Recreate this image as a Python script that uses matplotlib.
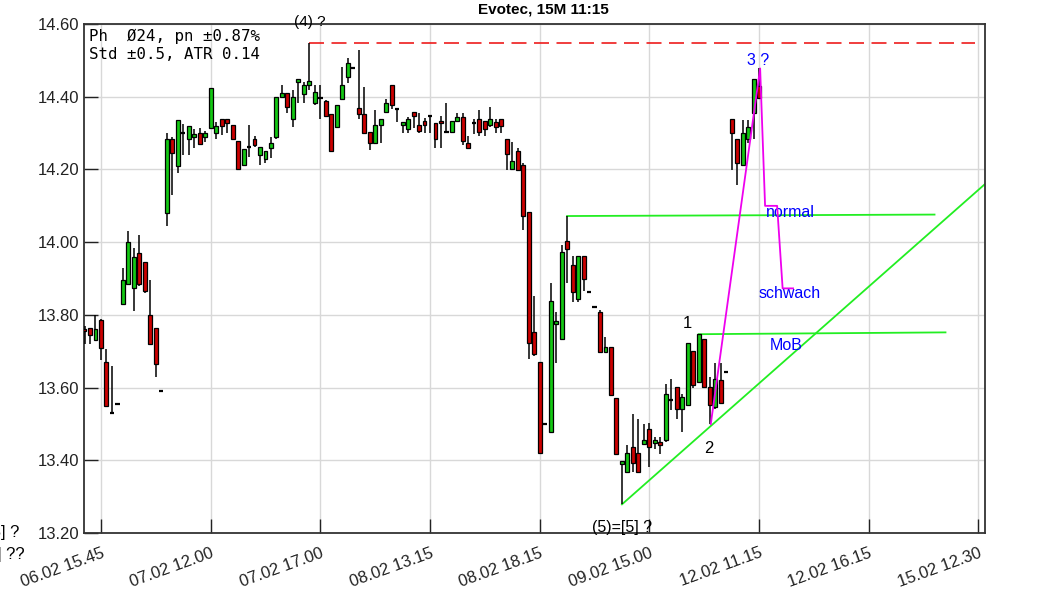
import matplotlib
matplotlib.use("Agg")
import matplotlib.pyplot as plt

plt.rcParams["font.family"] = ["Liberation Sans", "DejaVu Sans"]

# 15-minute candles, first bar index -3, one bar per slot
first_bar = -3
opens = [13.76, 13.765, 13.73, 13.785, 13.67, 13.53, 13.555, 13.83, 13.885, 13.875,
         13.97, 13.945, 13.80, 13.765, 13.59, 14.08, 14.285, 14.21, 14.30, 14.285,
         14.29, 14.30, 14.29, 14.315, 14.30, 14.34, 14.34, 14.322, 14.277, 14.212,
         14.26, 14.283, 14.241, 14.229, 14.26, 14.29, 14.40, 14.411, 14.34, 14.44,
         14.407, 14.432, 14.382, 14.396, 14.388, 14.352, 14.316, 14.393, 14.455, 14.478,
         14.37, 14.352, 14.304, 14.272, 14.322, 14.357, 14.432, 14.365, 14.322, 14.31,
         14.357, 14.322, 14.333, 14.347, 14.328, 14.334, 14.304, 14.302, 14.334, 14.345,
         14.272, 14.324, 14.34, 14.333, 14.322, 14.33, 14.338, 14.285, 14.20, 14.25,
         14.212, 14.084, 13.752, 13.671, 13.50, 13.478, 13.776, 13.735, 14.004, 13.937,
         13.845, 13.962, 13.864, 13.822, 13.807, 13.697, 13.711, 13.572, 13.391, 13.368,
         13.437, 13.419, 13.445, 13.487, 13.448, 13.451, 13.456, 13.566, 13.601, 13.54,
         13.552, 13.70, 13.616, 13.735, 13.602, 13.547, 13.621, 13.644, 14.34, 14.285,
         14.212, 14.283, 14.356, 14.429]
highs = [13.77, 13.765, 13.80, 13.79, 13.705, 13.66, 13.555, 13.93, 14.03, 13.985,
         14.02, 13.945, 13.895, 13.765, 13.59, 14.30, 14.29, 14.335, 14.325, 14.32,
         14.31, 14.315, 14.305, 14.425, 14.33, 14.34, 14.34, 14.322, 14.277, 14.255,
         14.322, 14.292, 14.262, 14.251, 14.29, 14.40, 14.432, 14.411, 14.418, 14.448,
         14.441, 14.548, 14.432, 14.432, 14.39, 14.352, 14.377, 14.483, 14.506, 14.478,
         14.528, 14.428, 14.304, 14.363, 14.34, 14.393, 14.432, 14.365, 14.331, 14.345,
         14.357, 14.354, 14.342, 14.347, 14.328, 14.347, 14.382, 14.333, 14.356, 14.356,
         14.292, 14.338, 14.363, 14.333, 14.371, 14.338, 14.338, 14.285, 14.276, 14.258,
         14.218, 14.084, 13.853, 13.671, 13.50, 13.887, 13.809, 13.992, 14.072, 13.962,
         13.962, 13.962, 13.864, 13.822, 13.813, 13.74, 13.711, 13.572, 13.399, 13.442,
         13.527, 13.515, 13.501, 13.503, 13.465, 13.465, 13.611, 13.625, 13.601, 13.582,
         13.723, 13.70, 13.747, 13.735, 13.63, 13.667, 13.667, 13.644, 14.34, 14.285,
         14.336, 14.336, 14.45, 14.478]
lows = [13.72, 13.72, 13.73, 13.675, 13.55, 13.53, 13.555, 13.83, 13.885, 13.81,
        13.88, 13.86, 13.72, 13.63, 13.59, 14.045, 14.13, 14.19, 14.24, 14.24,
        14.26, 14.27, 14.275, 14.315, 14.285, 14.295, 14.30, 14.283, 14.20, 14.21,
        14.235, 14.262, 14.212, 14.217, 14.232, 14.285, 14.40, 14.354, 14.317, 14.382,
        14.382, 14.418, 14.377, 14.34, 14.347, 14.251, 14.316, 14.393, 14.437, 14.478,
        14.34, 14.30, 14.253, 14.272, 14.272, 14.357, 14.366, 14.331, 14.30, 14.30,
        14.313, 14.30, 14.30, 14.30, 14.26, 14.26, 14.302, 14.302, 14.33, 14.267,
        14.26, 14.297, 14.292, 14.292, 14.317, 14.30, 14.30, 14.198, 14.20, 14.198,
        14.033, 13.68, 13.687, 13.419, 13.50, 13.478, 13.668, 13.735, 13.887, 13.836,
        13.836, 13.866, 13.864, 13.822, 13.698, 13.697, 13.579, 13.417, 13.279, 13.368,
        13.368, 13.364, 13.445, 13.382, 13.43, 13.417, 13.45, 13.538, 13.515, 13.478,
        13.552, 13.60, 13.616, 13.60, 13.50, 13.54, 13.558, 13.644, 14.198, 14.157,
        14.212, 14.272, 14.283, 14.396]
closes = [13.755, 13.745, 13.76, 13.71, 13.55, 13.53, 13.555, 13.895, 14.00, 13.96,
          13.885, 13.865, 13.72, 13.665, 13.59, 14.285, 14.245, 14.335, 14.30, 14.32,
          14.297, 14.27, 14.30, 14.425, 14.32, 14.32, 14.327, 14.283, 14.20, 14.255,
          14.262, 14.267, 14.262, 14.251, 14.272, 14.40, 14.411, 14.372, 14.40, 14.448,
          14.432, 14.443, 14.414, 14.396, 14.347, 14.251, 14.377, 14.432, 14.492, 14.478,
          14.352, 14.30, 14.272, 14.322, 14.34, 14.382, 14.377, 14.365, 14.331, 14.338,
          14.347, 14.306, 14.322, 14.347, 14.283, 14.327, 14.304, 14.333, 14.345, 14.278,
          14.26, 14.327, 14.302, 14.31, 14.34, 14.316, 14.32, 14.242, 14.223, 14.198,
          14.072, 13.722, 13.692, 13.419, 13.50, 13.839, 13.783, 13.972, 13.98, 13.864,
          13.962, 13.90, 13.864, 13.822, 13.698, 13.711, 13.579, 13.417, 13.399, 13.419,
          13.393, 13.368, 13.456, 13.437, 13.456, 13.442, 13.582, 13.566, 13.54, 13.573,
          13.723, 13.606, 13.747, 13.602, 13.552, 13.625, 13.558, 13.644, 14.30, 14.217,
          14.30, 14.316, 14.45, 14.396]

tick_bars = [0, 20, 40, 60, 80, 100, 120, 140, 160]
tick_labels = ["06.02 15.45", "07.02 12.00", "07.02 17.00", "08.02 13.15", "08.02 18.15",
               "09.02 15.00", "12.02 11.15", "12.02 16.15", "15.02 12.30"]
y_ticks = [13.2, 13.4, 13.6, 13.8, 14.0, 14.2, 14.4, 14.6]

# drawn lines (bar index, price)
top_line_x = [38, 159.3]
top_line_y = [14.548, 14.548]
normal_x = [85, 152]
normal_y = [14.072, 14.076]
mob_x = [109, 154]
mob_y = [13.747, 13.752]
trend_x = [95, 170]
trend_y = [13.279, 14.277]
wave_x = [111.2, 120.2, 121.1, 123.3, 124.3, 126.2]
wave_y = [13.50, 14.478, 14.10, 14.10, 13.873, 13.873]

GREEN = "#14c814"
RED = "#cc0000"

fig = plt.figure(figsize=(10.63, 5.91), dpi=100)
ax = fig.add_axes([0.079, 0.098, 0.8476, 0.8613])

for i, (o, h, l, c) in enumerate(zip(opens, highs, lows, closes)):
    x = first_bar + i
    ax.vlines(x, l, h, color="black", lw=1.1, zorder=3)
    if abs(c - o) < 0.004:
        ax.hlines(c, x - 0.4, x + 0.4, color="black", lw=1.6, zorder=4)
    else:
        ax.bar(x, abs(c - o), bottom=min(o, c), width=0.72,
               color=GREEN if c > o else RED, edgecolor="black", lw=0.9, zorder=4)

ax.plot(top_line_x, top_line_y, color="#ee1c1c", lw=1.2, linestyle=(0, (9, 4.5)), zorder=2)
ax.plot(normal_x, normal_y, color="#22ee22", lw=1.3, zorder=2)
ax.plot(mob_x, mob_y, color="#22ee22", lw=1.3, zorder=2)
ax.plot(trend_x, trend_y, color="#22ee22", lw=1.3, zorder=2)
ax.plot(wave_x, wave_y, color="#ee00ee", lw=1.3, zorder=5)

ax.text(38, 14.607, "(4) ?", ha="center", va="center", fontsize=11, clip_on=False)
ax.text(95, 13.216, "(5)=[5] ?", ha="center", va="center", fontsize=11.5)
ax.text(107, 13.777, "1", ha="center", va="center", fontsize=12)
ax.text(110.8, 13.434, "2", ha="center", va="center", fontsize=12)
ax.text(119.8, 14.501, "3 ?", ha="center", va="center", fontsize=11.5, color="blue")
ax.text(121.2, 14.083, "normal", ha="left", va="center", fontsize=11.5, color="blue")
ax.text(120.0, 13.86, "schwach", ha="left", va="center", fontsize=11.5, color="blue")
ax.text(122.0, 13.717, "MoB", ha="left", va="center", fontsize=11.5, color="blue")

ax.text(0.006, 0.99, "Ph  Ø24, pn ±0.87%\nStd ±0.5, ATR 0.14", transform=ax.transAxes,
        ha="left", va="top", fontsize=11.3, family="DejaVu Sans Mono", linespacing=1.25)

ax.set_xlim(-3.1, 161.2)
ax.set_ylim(13.2, 14.6)
ax.set_xticks(tick_bars)
ax.set_xticklabels(tick_labels, rotation=20, ha="right", rotation_mode="anchor")
ax.set_yticks(y_ticks)
ax.set_yticklabels([f"{v:.2f}" for v in y_ticks])
ax.tick_params(direction="in", length=10, width=1, labelsize=12, colors="#222222")
ax.tick_params(axis="x", pad=9)
ax.grid(True, color="#d8d8d8", lw=1)
ax.set_axisbelow(True)
for s in ax.spines.values():
    s.set_color("#333333")
    s.set_linewidth(1.3)

fig.text(543 / 1063, 1 - 10 / 591, "Evotec, 15M 11:15", ha="center", va="center",
         fontsize=11, fontweight="bold")
fig.text(19 / 1063, 1 - 533 / 591, "(5)=[5] ?", ha="right", va="center", fontsize=12)
fig.text(25 / 1063, 1 - 555 / 591, "(4)=[4] ??", ha="right", va="center", fontsize=12)

fig.savefig("out.png", dpi=100)
plt.close(fig)
